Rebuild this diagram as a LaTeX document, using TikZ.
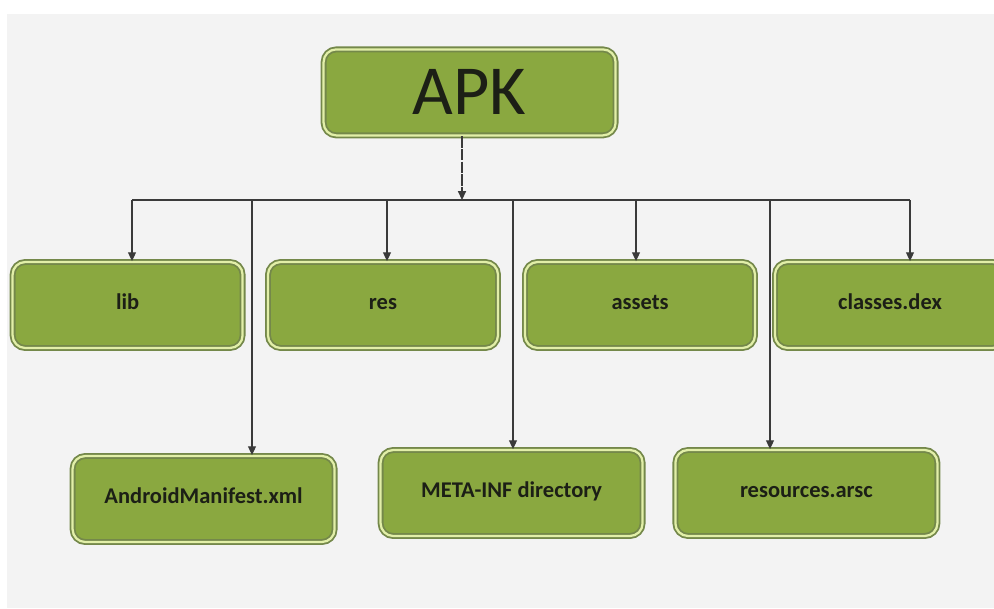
\documentclass[tikz,border=0pt]{standalone}
\usepackage{fontspec}
\setmainfont{Carlito}
\usetikzlibrary{arrows.meta, positioning, calc}
\definecolor{cInk}{HTML}{1c1f16}
\definecolor{cWire}{HTML}{3a3a3a}
\definecolor{cLeaf}{HTML}{8aa840}
\definecolor{cRim}{HTML}{74884a}
\definecolor{cGlow}{HTML}{e2efa8}
\definecolor{cPaper}{HTML}{f3f3f3}
\tikzset{
  >={Triangle[length=2.2mm,width=2mm]},
  wire/.style={draw=cWire, line width=0.8pt},
  drop/.style={->, draw=cWire, line width=0.8pt},
  leaf/.style={draw=cRim, line width=1.3pt, double=cGlow, double distance=1.6pt,
      rounded corners=9pt, fill=cLeaf, inner sep=0pt, align=center, text=cInk},
  toprow/.style={leaf, minimum width=5.75cm, minimum height=2.15cm, text height=1.6ex, text depth=0.4ex,
      font=\bfseries\fontsize{16}{19}\selectfont},
  lowrow/.style={leaf, minimum width=6.55cm, minimum height=2.15cm, text height=1.6ex, text depth=0.4ex,
      font=\bfseries\fontsize{16}{19}\selectfont},
}

\begin{document}
\begin{tikzpicture}
\clip (0,0) rectangle (24.85,15.2);
\fill[white] (0,0) rectangle (24.85,15.2);
\fill[cPaper] (0.175,0) rectangle (24.85,14.85);

% ===================== root =====================
\node[leaf, minimum width=7.3cm, minimum height=2.15cm, font=\fontsize{50}{56}\selectfont] (apk) at (11.74,12.89) {APK};

% ===================== bus =====================
\coordinate (bus) at (11.55,10.2);
\coordinate (b1) at (3.30,10.2);
\coordinate (b2) at (6.30,10.2);
\coordinate (b3) at (9.675,10.2);
\coordinate (b4) at (12.825,10.2);
\coordinate (b5) at (15.90,10.2);
\coordinate (b6) at (19.25,10.2);
\coordinate (b7) at (22.75,10.2);

\draw[drop, dash pattern=on 8pt off 1pt] (apk.south -| bus) -- (bus);
\draw[wire] (b1) -- (b7);

% ===================== top row =====================
\node[toprow] (lib) at (3.19,7.575) {lib};
\node[toprow] (res) at (9.575,7.575) {res};
\node[toprow] (assets) at (16.0,7.575) {assets};
\node[toprow] (dex) at (22.25,7.575) {classes.dex};

\draw[drop] (b1) -- (b1 |- lib.north);
\draw[drop] (b3) -- (b3 |- res.north);
\draw[drop] (b5) -- (b5 |- assets.north);
\draw[drop] (b7) -- (b7 |- dex.north);

% ===================== bottom row =====================
\node[lowrow] (manifest) at (5.09,2.725) {AndroidManifest.xml};
\node[lowrow] (meta) at (12.79,2.875) {META-INF directory};
\node[lowrow] (arsc) at (20.16,2.875) {resources.arsc};

\draw[drop] (b2) -- (b2 |- manifest.north);
\draw[drop] (b4) -- (b4 |- meta.north);
\draw[drop] (b6) -- (b6 |- arsc.north);

\end{tikzpicture}
\end{document}
